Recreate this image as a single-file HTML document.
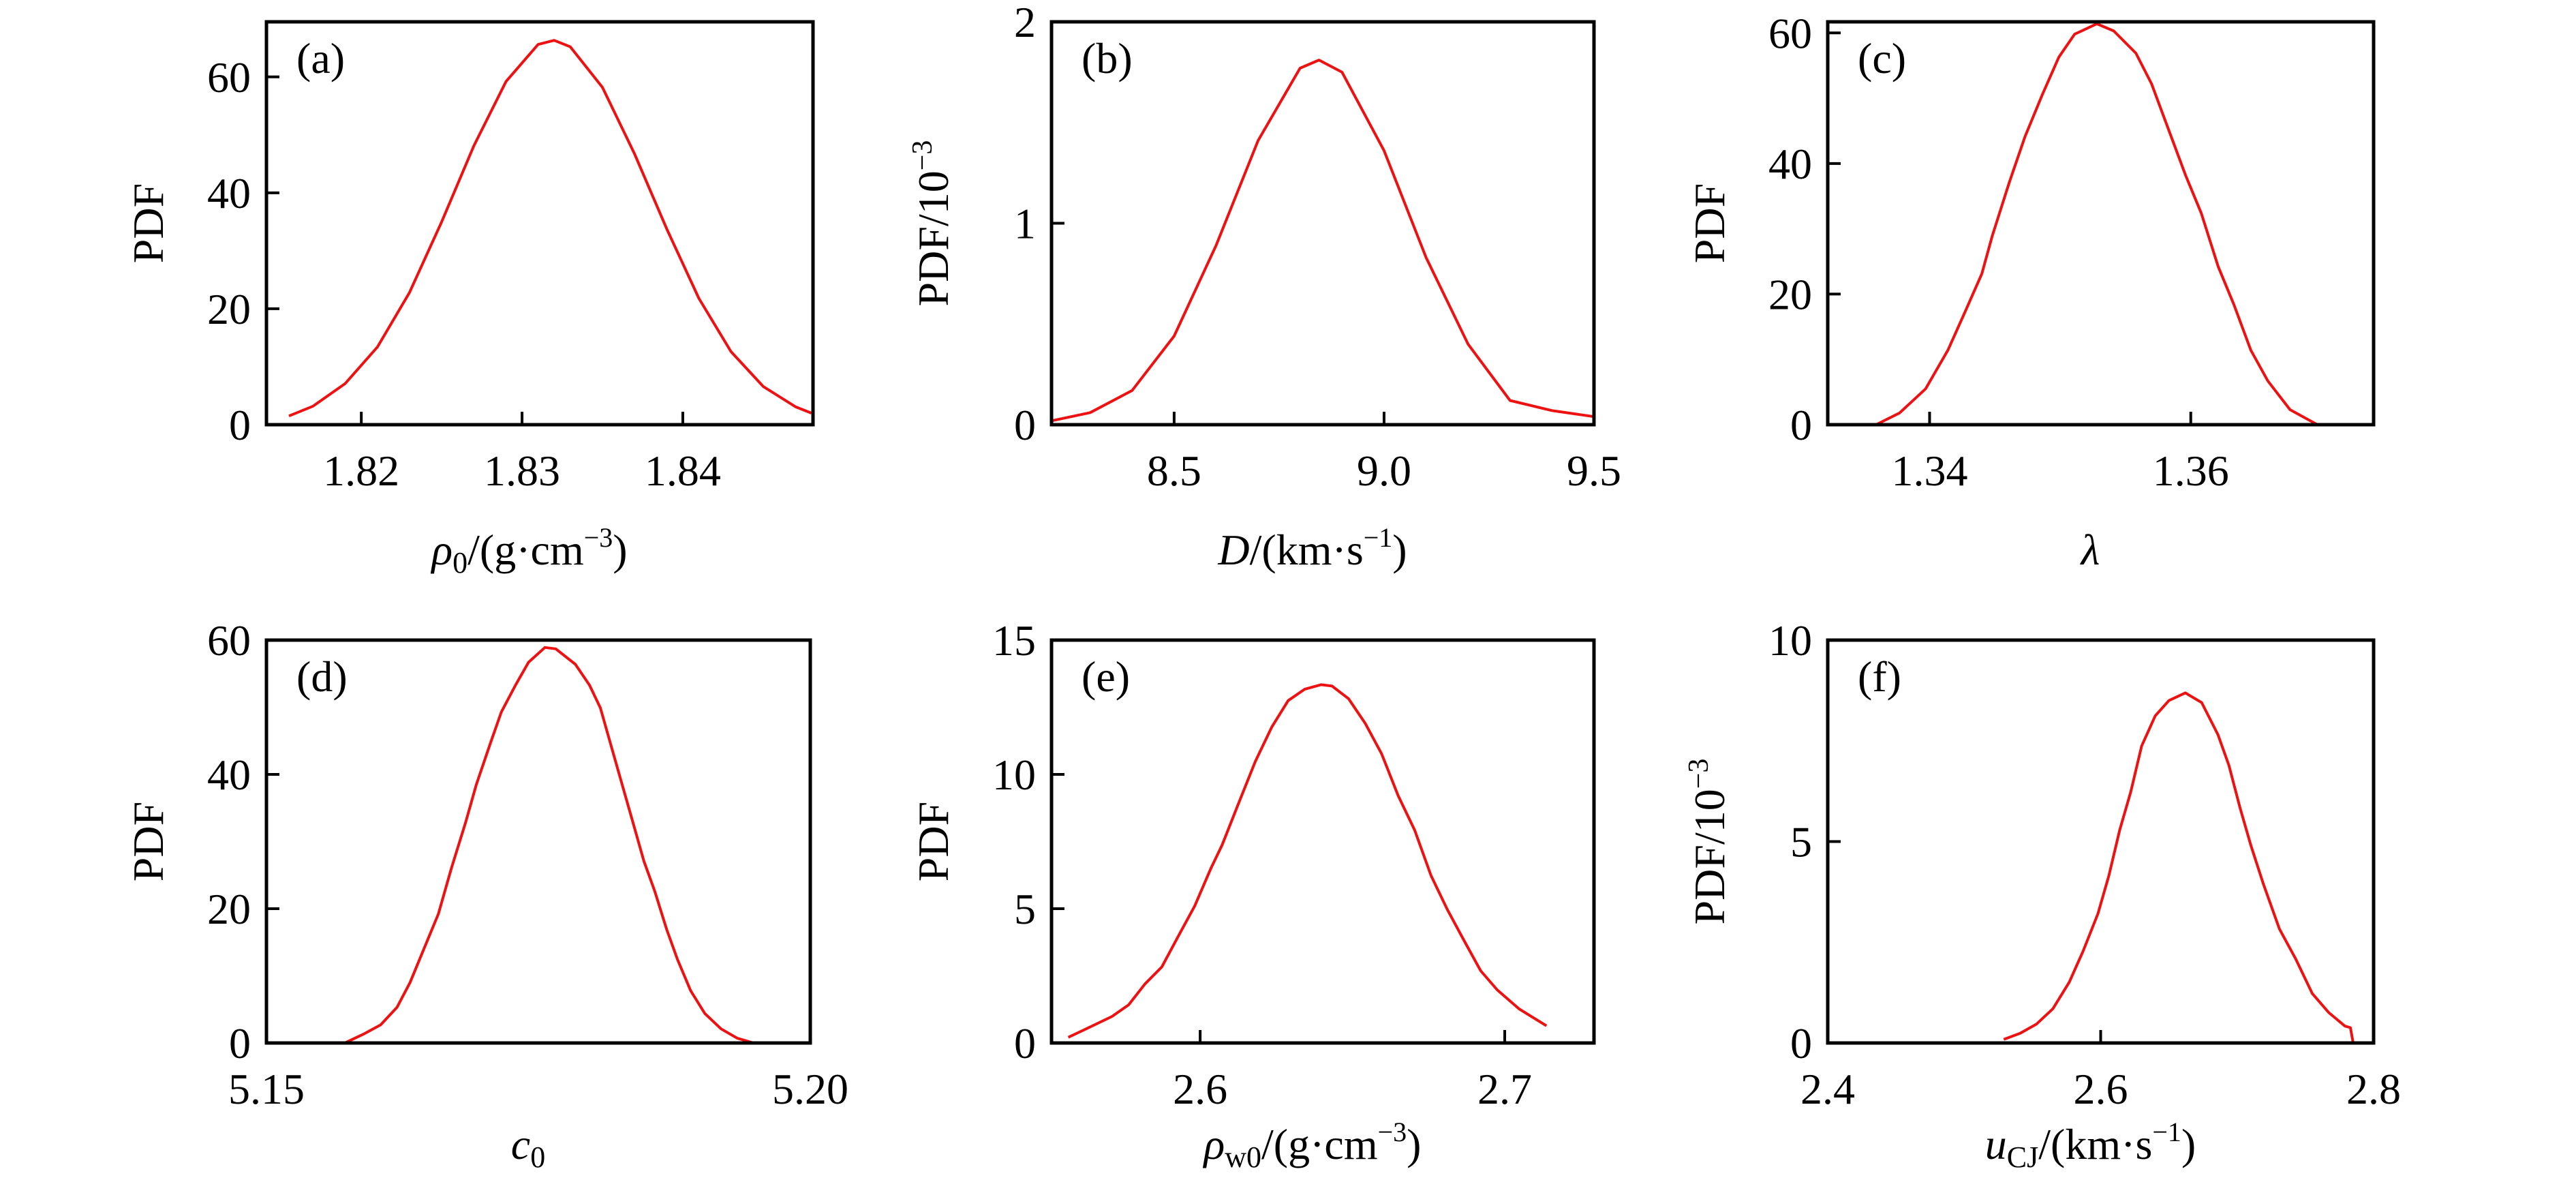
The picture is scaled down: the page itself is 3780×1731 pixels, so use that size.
<!DOCTYPE html>
<html><head><meta charset="utf-8"><style>
html,body{margin:0;padding:0;background:#fff;}
svg{display:block;font-family:"Liberation Serif","Times New Roman",serif;}
</style></head><body>
<svg id="fig" width="3780" height="1731" viewBox="0 0 3780 1731" xmlns="http://www.w3.org/2000/svg"></svg>
<script>
// Panel (a) rho0
const aX = [1.8155,1.817,1.819,1.821,1.823,1.825,1.827,1.829,1.831,1.832,1.833,1.835,1.837,1.839,1.841,1.843,1.845,1.847,1.848];
const aY = [1.5,3.2,7.1,13.4,22.8,35.0,48.1,59.2,65.6,66.3,65.2,58.2,46.7,33.8,21.8,12.6,6.6,3.1,2.0];
// Panel (b) D
const bX = [8.21,8.3,8.4,8.5,8.6,8.7,8.8,8.845,8.9,9.0,9.1,9.2,9.3,9.4,9.5];
const bY = [0.02,0.06,0.17,0.44,0.89,1.41,1.77,1.81,1.75,1.36,0.83,0.40,0.12,0.07,0.04];
// Panel (c) lambda
const cX = [1.3330,1.3359,1.3377,1.3397,1.3414,1.3427,1.3440,1.3448,1.3461,1.3473,1.3486,1.3499,1.3511,1.3528,1.3541,1.3558,1.3570,1.3583,1.3596,1.3608,1.3621,1.3633,1.3646,1.3659,1.3676,1.3697,1.3728];
const cY = [0,0,1.8,5.5,11.4,17.2,23.1,28.9,37.1,44.1,50.4,56.3,59.8,61.4,60.3,56.9,52.2,45.2,38.2,32.4,24.2,18.4,11.4,6.7,2.3,0,0];
// Panel (d) c0
const dX = [5.1531,5.1572,5.1589,5.1605,5.1620,5.1632,5.1645,5.1658,5.1670,5.1683,5.1693,5.1706,5.1716,5.1729,5.1741,5.1756,5.1766,5.1784,5.1797,5.1807,5.1817,5.1827,5.1837,5.1847,5.1857,5.1868,5.1878,5.1890,5.1903,5.1918,5.1933,5.1948,5.1989];
const dY = [0,0,1.3,2.7,5.3,9.0,14.1,19.2,26.0,32.8,38.5,44.7,49.3,53.3,56.7,58.9,58.7,56.4,53.3,49.9,44.2,38.5,32.8,27.1,22.6,16.9,12.4,7.8,4.4,2.1,0.7,0,0];
// Panel (e) rho_w0
const eX = [2.5567,2.5621,2.5711,2.5765,2.5819,2.5874,2.5928,2.5982,2.6036,2.6072,2.6126,2.6181,2.6235,2.6289,2.6343,2.6397,2.6433,2.6487,2.6542,2.6596,2.6650,2.6704,2.6758,2.6812,2.6866,2.6921,2.6975,2.7047,2.7137];
const eY = [0.21,0.50,0.99,1.42,2.20,2.83,3.97,5.10,6.52,7.37,8.92,10.48,11.76,12.75,13.17,13.34,13.29,12.82,11.90,10.76,9.21,7.93,6.23,4.96,3.82,2.69,1.98,1.27,0.64];
// Panel (f) u_CJ
const fX = [2.529,2.541,2.553,2.565,2.577,2.587,2.598,2.606,2.614,2.622,2.630,2.640,2.650,2.662,2.674,2.686,2.694,2.702,2.710,2.719,2.731,2.743,2.755,2.767,2.779,2.783,2.785];
const fY = [0.09,0.24,0.47,0.85,1.51,2.27,3.21,4.15,5.29,6.23,7.37,8.12,8.50,8.69,8.45,7.65,6.89,5.85,4.91,3.97,2.83,2.08,1.23,0.76,0.42,0.38,0];
// tick values / labels
const aXT=[1.82,1.83,1.84], aXL=["1.82","1.83","1.84"], aYT=[0,20,40,60];
const bXT=[8.5,9.0,9.5], bXL=["8.5","9.0","9.5"], bYT=[0,1,2];
const cXT=[1.34,1.36], cXL=["1.34","1.36"], cYT=[0,20,40,60];
const dXT=[5.15,5.20], dXL=["5.15","5.20"], dYT=[0,20,40,60];
const eXT=[2.6,2.7], eXL=["2.6","2.7"], eYT=[0,5,10,15];
const fXT=[2.4,2.6,2.8], fXL=["2.4","2.6","2.8"], fYT=[0,5,10];

const NS="http://www.w3.org/2000/svg";
const svg=document.getElementById('fig');
function mk(tag,attrs,parent){const e=document.createElementNS(NS,tag);for(const k in attrs)e.setAttribute(k,attrs[k]);(parent||svg).appendChild(e);return e;}

const panels=[
 {id:'a',L:391,R:1193,T:32,B:623,xmin:1.8141,xmax:1.8481,ymin:0,ymax:69.5,xs:aX,ys:aY,xt:aXT,xl:aXL,yt:aYT,yl:'PDF',xtitle:'<tspan font-style="italic">ρ</tspan><tspan font-size="44" dy="12">0</tspan><tspan dy="-12">/(g·cm</tspan><tspan font-size="40" dy="-26">−3</tspan><tspan dy="26">)</tspan>',tb:828,tickMarks:true},
 {id:'b',L:1543,R:2339,T:32,B:623,xmin:8.208,xmax:9.5,ymin:0,ymax:2,xs:bX,ys:bY,xt:bXT,xl:bXL,yt:bYT,yl:'PDF/10<tspan font-size="42" dy="-24">−3</tspan>',xtitle:'<tspan font-style="italic">D</tspan>/(km·s<tspan font-size="40" dy="-26">−1</tspan><tspan dy="26">)</tspan>',tb:828,tickMarks:true},
 {id:'c',L:2682,R:3483,T:32,B:623,xmin:1.3322,xmax:1.374,ymin:0,ymax:61.7,xs:cX,ys:cY,xt:cXT,xl:cXL,yt:cYT,yl:'PDF',xtitle:'<tspan font-style="italic">λ</tspan>',tb:828,tickMarks:true},
 {id:'d',L:391,R:1189,T:939,B:1530,xmin:5.15,xmax:5.20,ymin:0,ymax:60,xs:dX,ys:dY,xt:dXT,xl:dXL,yt:dYT,yl:'PDF',xtitle:'<tspan font-style="italic">c</tspan><tspan font-size="44" dy="12">0</tspan>',tb:1700,tickMarks:false},
 {id:'e',L:1543,R:2339,T:939,B:1530,xmin:2.5512,xmax:2.7293,ymin:0,ymax:15,xs:eX,ys:eY,xt:eXT,xl:eXL,yt:eYT,yl:'PDF',xtitle:'<tspan font-style="italic">ρ</tspan><tspan font-size="44" dy="12">w0</tspan><tspan dy="-12">/(g·cm</tspan><tspan font-size="40" dy="-26">−3</tspan><tspan dy="26">)</tspan>',tb:1700,tickMarks:true},
 {id:'f',L:2682,R:3483,T:939,B:1530,xmin:2.4,xmax:2.8,ymin:0,ymax:10,xs:fX,ys:fY,xt:fXT,xl:fXL,yt:fYT,yl:'PDF/10<tspan font-size="42" dy="-24">−3</tspan>',xtitle:'<tspan font-style="italic">u</tspan><tspan font-size="44" dy="12">CJ</tspan><tspan dy="-12">/(km·s</tspan><tspan font-size="40" dy="-26">−1</tspan><tspan dy="26">)</tspan>',tb:1700,tickMarks:true}
];

panels.forEach(p=>{
  const g=mk('g',{});
  
  
  const sx=v=>p.L+(v-p.xmin)/(p.xmax-p.xmin)*(p.R-p.L);
  const sy=v=>p.B-(v-p.ymin)/(p.ymax-p.ymin)*(p.B-p.T);
  // curve
  let d='';
  for(let i=0;i<p.xs.length;i++){d+=(i?'L':'M')+sx(p.xs[i]).toFixed(1)+' '+sy(p.ys[i]).toFixed(1);}
  const path=mk('path',{d:d,fill:'none',stroke:'#ee1111','stroke-width':4,'stroke-linejoin':'round'},g);
  
  
  // frame
  const fr=mk('rect',{x:p.L,y:p.T,width:p.R-p.L,height:p.B-p.T,fill:'none',stroke:'#000','stroke-width':5},g);
  
  
  // x ticks
  p.xt.forEach((v,i)=>{
    const x=sx(v);
    if(p.tickMarks){const t=mk('line',{x1:x,x2:x,y1:p.B,y2:p.B-19,stroke:'#000','stroke-width':4},g);
      
      }
    const tx=mk('text',{x:x,y:p.B+89,'font-size':64,'text-anchor':'middle'},g);
    tx.textContent=p.xl[i];
    
    
  });
  // y ticks
  p.yt.forEach(v=>{
    const y=sy(v);
    const t=mk('line',{x1:p.L,x2:p.L+19,y1:y,y2:y,stroke:'#000','stroke-width':4},g);
    
    
    const ty=mk('text',{x:p.L-23,y:y+22,'font-size':64,'text-anchor':'end'},g);
    ty.textContent=String(v);
    
    
  });
  // y title
  const cy=(p.T+p.B)/2, cx=p.L-174+22;
  const yt=mk('text',{x:cx,y:cy,'font-size':64,'text-anchor':'middle',transform:'rotate(-90 '+cx+' '+cy+')'},g);
  yt.innerHTML=p.yl;
  
  
  // x title
  const xt=mk('text',{x:(p.L+p.R)/2-15,y:p.tb,'font-size':64,'text-anchor':'middle'},g);
  xt.innerHTML=p.xtitle;
  
  
  // panel letter
  const pl=mk('text',{x:p.L+44,y:p.T+75,'font-size':64},g);
  pl.textContent='('+p.id+')';
  
  
});
</script>
</body></html>
